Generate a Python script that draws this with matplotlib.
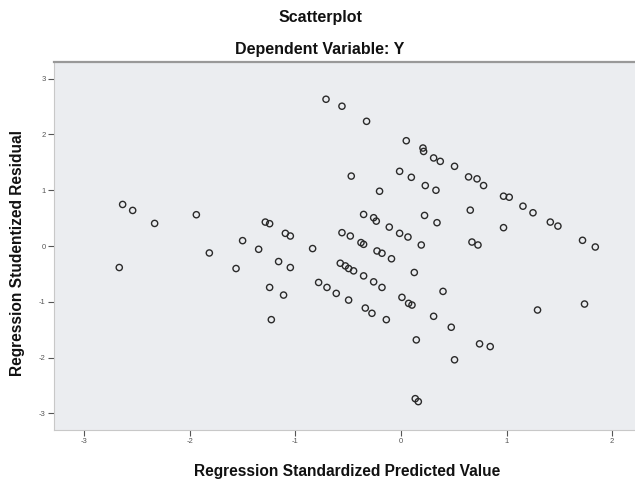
import matplotlib
matplotlib.use("Agg")
import matplotlib.pyplot as plt

# Regression standardized predicted values (x) and studentized residuals (y)
pred = [-0.710, -0.559, -0.326, 0.050, 0.208, 0.214, 0.309, 0.372, 0.507, 0.640,
        0.720, 0.782, 0.971, 1.025, 1.155, 1.250, 1.414, 1.486, 1.719, 1.840,
        -0.471, -0.013, 0.098, -0.203, 0.230, 0.331, 0.656, 0.971, -0.354, -0.259,
        -0.234, -0.111, -0.013, 0.066, 0.223, 0.341, 0.192, 0.672, 0.729, -0.559,
        -0.480, -0.379, -0.354, -0.227, -0.180, -0.090, -2.636, -2.541, -2.333, -1.938,
        -1.285, -1.244, -1.095, -1.048, -1.500, -1.348, -0.837, -1.815, -2.668, -1.562,
        -1.159, -1.048, -0.575, -0.527, -0.496, -1.244, -1.112, -0.780, -0.701, -0.613,
        -0.496, -1.228, -0.449, -0.354, -0.259, -0.180, 0.126, 0.398, -0.338, -0.275,
        -0.139, 0.009, 0.072, 0.104, 0.309, 0.476, 0.145, 0.744, 0.845, 0.507,
        1.293, 1.738, 0.135, 0.164]
resid = [2.632, 2.507, 2.236, 1.888, 1.757, 1.696, 1.579, 1.518, 1.429, 1.239,
         1.204, 1.084, 0.893, 0.875, 0.714, 0.596, 0.429, 0.357, 0.102, -0.018,
         1.254, 1.339, 1.232, 0.982, 1.084, 1.000, 0.643, 0.329, 0.566, 0.507,
         0.446, 0.339, 0.227, 0.161, 0.548, 0.418, 0.018, 0.071, 0.018, 0.239,
         0.179, 0.061, 0.030, -0.089, -0.130, -0.229, 0.745, 0.638, 0.405, 0.561,
         0.429, 0.400, 0.227, 0.179, 0.096, -0.059, -0.046, -0.125, -0.386, -0.404,
         -0.279, -0.386, -0.309, -0.357, -0.404, -0.743, -0.880, -0.654, -0.743, -0.850,
         -0.970, -1.321, -0.446, -0.536, -0.643, -0.743, -0.475, -0.814, -1.113, -1.207,
         -1.321, -0.921, -1.029, -1.059, -1.261, -1.457, -1.684, -1.755, -1.804, -2.041,
         -1.148, -1.041, -2.738, -2.791]

x_ticks = [-3, -2, -1, 0, 1, 2]
y_ticks = [3, 2, 1, 0, -1, -2, -3]

plt.rcParams['font.family'] = ['Liberation Sans', 'DejaVu Sans']

W, H = 635, 479
fig = plt.figure(figsize=(6.35, 4.79), dpi=100)
ax = fig.add_axes([54 / W, 1 - 430 / H, (W - 54) / W, (430 - 62) / H])
ax.set_facecolor('#ebedf0')

ax.scatter(pred, resid, s=20, facecolors='none', edgecolors='#2a2a2a', linewidths=1.0, zorder=3)

ax.set_xlim(-3.286, 2.216)
ax.set_ylim(-3.30, 3.30)
ax.set_xticks(x_ticks)
ax.set_yticks(y_ticks)
ax.set_xticklabels([str(t) for t in x_ticks])
ax.set_yticklabels([str(t) for t in y_ticks])
ax.tick_params(axis='both', labelsize=5.5, labelcolor='#555555', length=4, width=0.8,
               color='#555555', direction='out', pad=2)

ax.spines['right'].set_visible(False)
for side in ['left', 'bottom']:
    ax.spines[side].set_color('#c8c8c8')
    ax.spines[side].set_linewidth(0.8)
ax.spines['top'].set_color('#999999')
ax.spines['top'].set_linewidth(1.6)

fig.text(347 / W, 1 - 476 / H, 'Regression Standardized Predicted Value',
         ha='center', va='baseline', fontsize=11.2, fontweight='bold', color='#111111')
fig.text(18 / W, 1 - 253 / H, 'Regression Studentized Residual', rotation=90,
         ha='center', va='center', fontsize=11.2, fontweight='bold', color='#111111')

fig.text(320 / W, 1 - 22 / H, 'Scatterplot', ha='center', va='baseline',
         fontsize=11.5, fontweight='bold', color='#111111')
fig.text(320 / W, 1 - 54 / H, 'Dependent Variable: Y', ha='center', va='baseline',
         fontsize=11.5, fontweight='bold', color='#111111')

fig.savefig('out.png', dpi=100)
